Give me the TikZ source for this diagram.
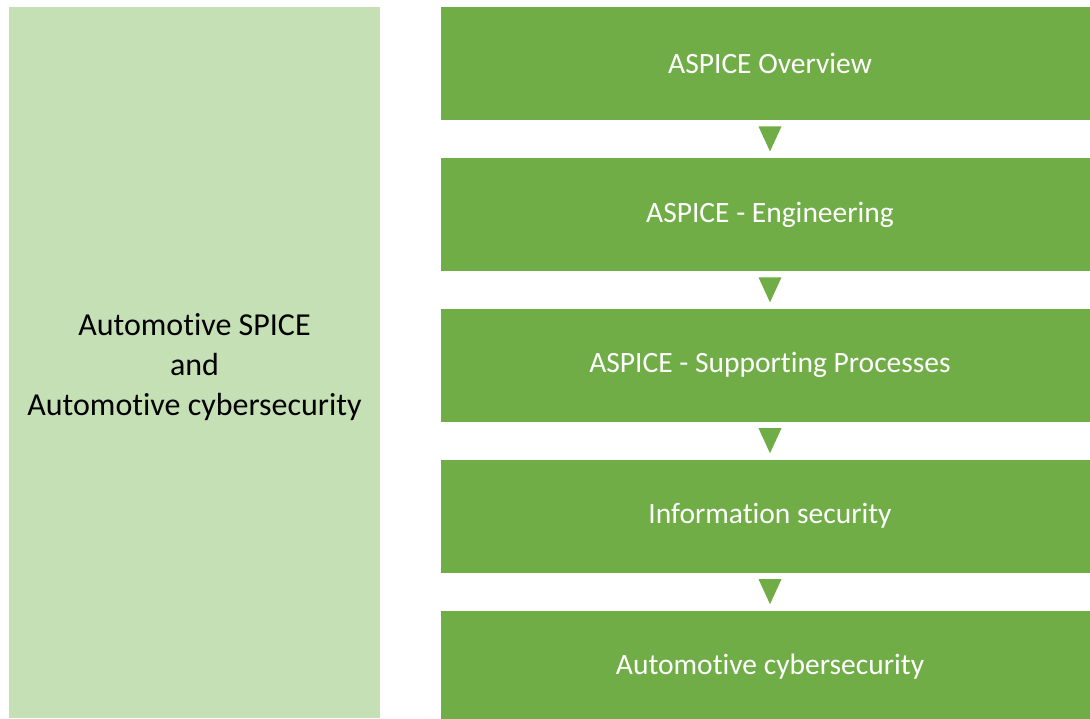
\documentclass[tikz,border=0pt]{standalone}
\usepackage{fontspec}
\setmainfont{Carlito}[Ligatures=NoCommon]
\usetikzlibrary{positioning,calc}
\definecolor{aspgreen}{HTML}{70AD47}
\definecolor{lightgreen}{HTML}{C5E0B4}

\begin{document}
\begin{tikzpicture}[x=1pt,y=1pt,
  topic/.style={fill=aspgreen, text=white, inner sep=0pt, minimum width=658pt, minimum height=113pt, font=\fontsize{29.5}{36}\selectfont},
  course/.style={fill=lightgreen, inner sep=0pt, minimum width=371pt, minimum height=711pt},
  coursetext/.style={align=center, text=black, yshift=-5pt, font=\fontsize{32}{40}\selectfont}]

\useasboundingbox (0,0) rectangle (1090,718);

\node[course, label={[coursetext]center:Automotive SPICE\\and\\Automotive cybersecurity}] (main) at (194.5,355.5) {};

\node[topic] (b1) at (770,654.5) {ASPICE Overview};
\node[topic,below=37.5pt of b1] (b2) {ASPICE - Engineering};
\node[topic,below=37.5pt of b2] (b3) {ASPICE - Supporting Processes};
\node[topic,below=37.5pt of b3] (b4) {Information security};
\node[topic,below=37.5pt of b4] (b5) {Automotive cybersecurity};

\foreach \i [evaluate=\i as \j using int(\i+1)] in {1,...,4}
  \fill[aspgreen] ($(b\i.south)!0.5!(b\j.north)$) ++(-11.5,12.5) -- ++(23,0) -- ++(-11.5,-25) -- cycle;

\end{tikzpicture}
\end{document}
